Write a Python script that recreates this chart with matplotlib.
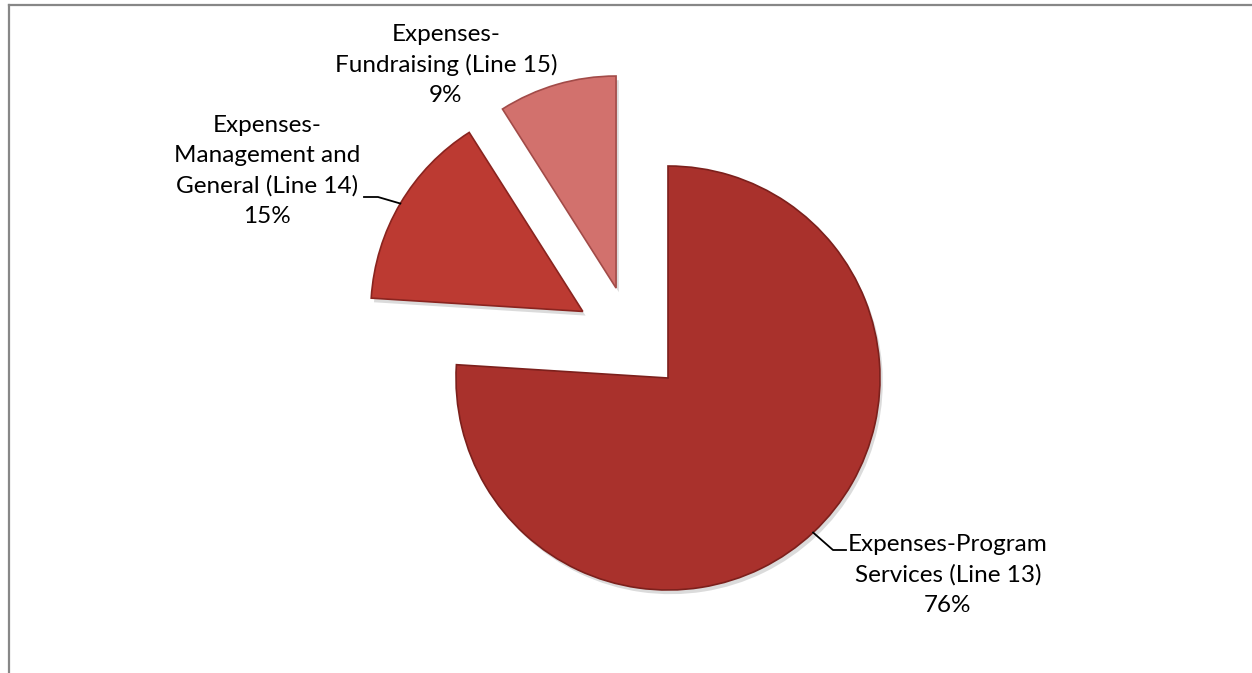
import numpy as np
import matplotlib
matplotlib.use('Agg')
import matplotlib.pyplot as plt
from matplotlib import patheffects
from matplotlib.lines import Line2D

plt.rcParams['font.family'] = ['Lato', 'DejaVu Sans']

labels = ['Expenses-Program\nServices (Line 13)',
          'Expenses-\nManagement and\nGeneral (Line 14)',
          'Expenses-\nFundraising (Line 15)']
shares = [76, 15, 9]
colors = ['#a9312c', '#bc3a32', '#d2716d']
edges = ['#7c201c', '#8a241f', '#a24b48']

# how far each slice is pulled out (in radii) and in which direction
# (degrees clockwise from 12 o'clock)
pull = [0.0, 0.51, 0.49]
pull_dir = [0.0, 308.0, 330.0]

W, H = 1252, 673
R = 212.0                 # pie radius in pixels
cx, cy = 668.0, 673 - 378.0  # pie centre in pixels (from bottom-left)

fig = plt.figure(figsize=(W / 100, H / 100), dpi=100)
ax = fig.add_axes([0, 0, 1, 1])

wedges, _ = ax.pie(shares, colors=colors, startangle=90,
                   counterclock=False, radius=1.0, center=(0, 0),
                   wedgeprops=dict(linewidth=1.2))
for w, ec, d, a in zip(wedges, edges, pull, pull_dir):
    t = np.deg2rad(a)
    w.set_center((d * np.sin(t), d * np.cos(t)))
    w.set_edgecolor(ec)
    w.set_path_effects([
        patheffects.SimplePatchShadow(offset=(2, -3), shadow_rgbFace='#9a9a9a', alpha=0.35),
        patheffects.Normal()])
ax.set_xlim(-cx / R, (W - cx) / R)
ax.set_ylim(-cy / R, (H - cy) / R)
ax.axis('off')


def arc_mid(w):
    a = np.deg2rad((w.theta1 + w.theta2) / 2)
    x0, y0 = w.center
    return x0 + w.r * np.cos(a), y0 + w.r * np.sin(a)


def px(x, y):
    # pixel (from top-left) -> data units
    return (x - cx) / R, (H - y - cy) / R


txt = dict(fontsize=17.5, ha='center', va='center', linespacing=1.52, color='#000000')

# Program services, bottom right with leader line
mx, my = arc_mid(wedges[0])
ex, ey = px(833, 550)
hx, hy = px(846, 550)
ax.plot([mx, ex, hx], [my, ey, hy], color='black', lw=1.3)
ax.text(*px(948, 575), f'{labels[0]}\n{shares[0]}%', **txt)

# Management and general, left with leader line
mx, my = arc_mid(wedges[1])
ex, ey = px(378, 197)
hx, hy = px(364, 197)
ax.plot([mx, ex, hx], [my, ey, hy], color='black', lw=1.3)
ax.text(*px(267, 171), f'{labels[1]}\n{shares[1]}%', **txt)

# Fundraising, top
ax.text(*px(446, 65), f'{labels[2]}\n{shares[2]}%', **txt)

# chart area border (left and top edges)
fig.add_artist(Line2D([8.5 / W, 8.5 / W], [0, 1 - 4.5 / H], color='#878787', lw=1.6,
                      transform=fig.transFigure))
fig.add_artist(Line2D([8.5 / W, 1], [1 - 4.5 / H, 1 - 4.5 / H], color='#878787', lw=1.6,
                      transform=fig.transFigure))

fig.savefig('out.png', dpi=100, facecolor='white')
